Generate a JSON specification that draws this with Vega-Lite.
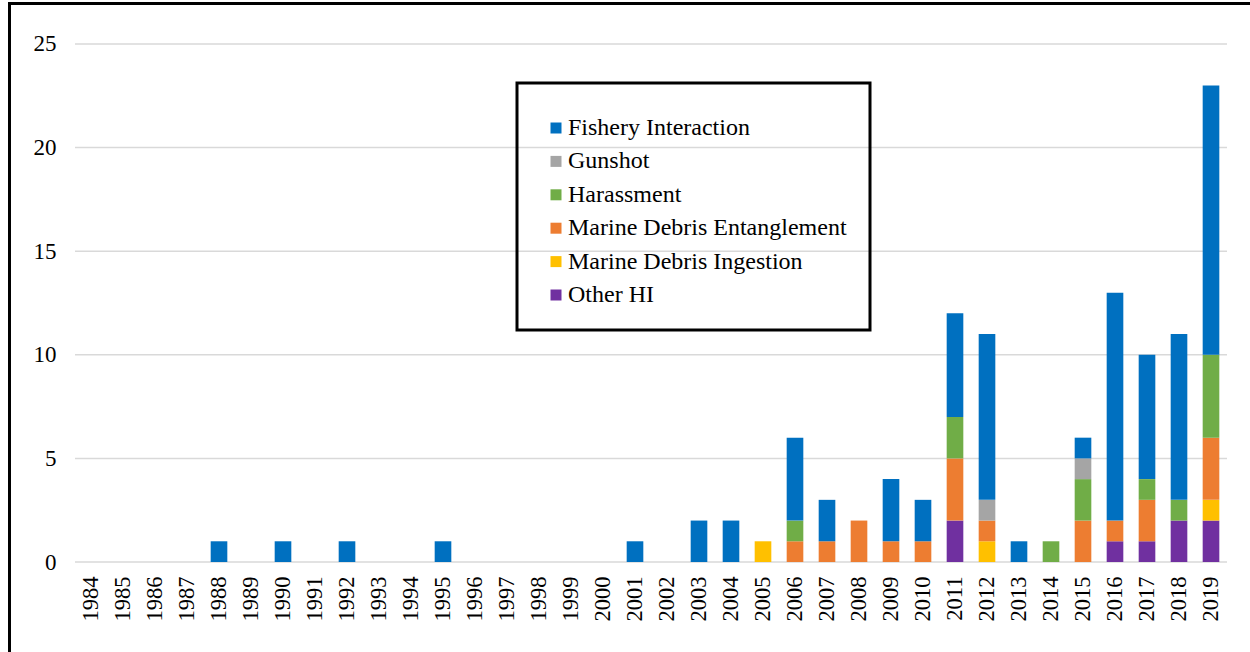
{
  "$schema": "https://vega.github.io/schema/vega-lite/v6.json",
  "autosize": {"type": "none"},
  "padding": {"left": 9.5, "top": 3.5, "right": -2, "bottom": -2},
  "width": 1242.5,
  "height": 650.5,
  "background": "white",
  "config": {
    "view": {"stroke": "#000000", "strokeWidth": 3},
    "font": "Liberation Serif",
    "axis": {"labelFont": "Liberation Serif", "labelColor": "#000000"},
    "legend": {"labelFont": "Liberation Serif"}
  },
  "layer": [
    {
      "data": {"values": [{"v": 0}, {"v": 5}, {"v": 10}, {"v": 15}, {"v": 20}, {"v": 25}]},
      "mark": {"type": "rule", "color": "#d9d9d9", "strokeWidth": 1.5},
      "encoding": {
        "y": {
          "field": "v",
          "type": "quantitative",
          "scale": {"domain": [-4.44, 26.954], "nice": false, "zero": false},
          "axis": {
            "title": null,
            "values": [0, 5, 10, 15, 20, 25],
            "labelFontSize": 23,
            "labelPadding": -46.5,
            "ticks": false,
            "tickSize": 0,
            "domain": false,
            "grid": false
          }
        },
        "x": {
          "datum": "1984",
          "type": "ordinal",
          "bandPosition": -0.4615,
          "scale": {"paddingInner": 0.48, "paddingOuter": 0.24, "range": [65.5, 1217.5]},
          "axis": {
            "title": null,
            "labelAngle": -90,
            "labelFontSize": 22.5,
            "labelPadding": 14,
            "ticks": false,
            "tickSize": 0,
            "domain": false,
            "grid": false,
            "offset": -92
          }
        },
        "x2": {"datum": "2019", "bandPosition": 1.4615}
      }
    },
    {
      "data": {
        "values": [
          {"year": "1984", "cause": "Fishery Interaction", "count": 0},
          {"year": "1985", "cause": "Fishery Interaction", "count": 0},
          {"year": "1986", "cause": "Fishery Interaction", "count": 0},
          {"year": "1987", "cause": "Fishery Interaction", "count": 0},
          {"year": "1988", "cause": "Fishery Interaction", "count": 1},
          {"year": "1989", "cause": "Fishery Interaction", "count": 0},
          {"year": "1990", "cause": "Fishery Interaction", "count": 1},
          {"year": "1991", "cause": "Fishery Interaction", "count": 0},
          {"year": "1992", "cause": "Fishery Interaction", "count": 1},
          {"year": "1993", "cause": "Fishery Interaction", "count": 0},
          {"year": "1994", "cause": "Fishery Interaction", "count": 0},
          {"year": "1995", "cause": "Fishery Interaction", "count": 1},
          {"year": "1996", "cause": "Fishery Interaction", "count": 0},
          {"year": "1997", "cause": "Fishery Interaction", "count": 0},
          {"year": "1998", "cause": "Fishery Interaction", "count": 0},
          {"year": "1999", "cause": "Fishery Interaction", "count": 0},
          {"year": "2000", "cause": "Fishery Interaction", "count": 0},
          {"year": "2001", "cause": "Fishery Interaction", "count": 1},
          {"year": "2002", "cause": "Fishery Interaction", "count": 0},
          {"year": "2003", "cause": "Fishery Interaction", "count": 2},
          {"year": "2004", "cause": "Fishery Interaction", "count": 2},
          {"year": "2005", "cause": "Marine Debris Ingestion", "count": 1},
          {"year": "2006", "cause": "Marine Debris Entanglement", "count": 1},
          {"year": "2006", "cause": "Harassment", "count": 1},
          {"year": "2006", "cause": "Fishery Interaction", "count": 4},
          {"year": "2007", "cause": "Marine Debris Entanglement", "count": 1},
          {"year": "2007", "cause": "Fishery Interaction", "count": 2},
          {"year": "2008", "cause": "Marine Debris Entanglement", "count": 2},
          {"year": "2009", "cause": "Marine Debris Entanglement", "count": 1},
          {"year": "2009", "cause": "Fishery Interaction", "count": 3},
          {"year": "2010", "cause": "Marine Debris Entanglement", "count": 1},
          {"year": "2010", "cause": "Fishery Interaction", "count": 2},
          {"year": "2011", "cause": "Other HI", "count": 2},
          {"year": "2011", "cause": "Marine Debris Entanglement", "count": 3},
          {"year": "2011", "cause": "Harassment", "count": 2},
          {"year": "2011", "cause": "Fishery Interaction", "count": 5},
          {"year": "2012", "cause": "Marine Debris Ingestion", "count": 1},
          {"year": "2012", "cause": "Marine Debris Entanglement", "count": 1},
          {"year": "2012", "cause": "Gunshot", "count": 1},
          {"year": "2012", "cause": "Fishery Interaction", "count": 8},
          {"year": "2013", "cause": "Fishery Interaction", "count": 1},
          {"year": "2014", "cause": "Harassment", "count": 1},
          {"year": "2015", "cause": "Marine Debris Entanglement", "count": 2},
          {"year": "2015", "cause": "Harassment", "count": 2},
          {"year": "2015", "cause": "Gunshot", "count": 1},
          {"year": "2015", "cause": "Fishery Interaction", "count": 1},
          {"year": "2016", "cause": "Other HI", "count": 1},
          {"year": "2016", "cause": "Marine Debris Entanglement", "count": 1},
          {"year": "2016", "cause": "Fishery Interaction", "count": 11},
          {"year": "2017", "cause": "Other HI", "count": 1},
          {"year": "2017", "cause": "Marine Debris Entanglement", "count": 2},
          {"year": "2017", "cause": "Harassment", "count": 1},
          {"year": "2017", "cause": "Fishery Interaction", "count": 6},
          {"year": "2018", "cause": "Other HI", "count": 2},
          {"year": "2018", "cause": "Harassment", "count": 1},
          {"year": "2018", "cause": "Fishery Interaction", "count": 8},
          {"year": "2019", "cause": "Other HI", "count": 2},
          {"year": "2019", "cause": "Marine Debris Ingestion", "count": 1},
          {"year": "2019", "cause": "Marine Debris Entanglement", "count": 3},
          {"year": "2019", "cause": "Harassment", "count": 4},
          {"year": "2019", "cause": "Fishery Interaction", "count": 13}
        ]
      },
      "mark": {"type": "bar"},
      "encoding": {
        "x": {
          "field": "year",
          "type": "ordinal",
          "scale": {"paddingInner": 0.48, "paddingOuter": 0.24, "range": [65.5, 1217.5]},
          "axis": {
            "title": null,
            "labelAngle": -90,
            "labelFontSize": 22.5,
            "labelPadding": 14,
            "ticks": false,
            "tickSize": 0,
            "domain": false,
            "grid": false,
            "offset": -92
          }
        },
        "y": {
          "field": "count",
          "type": "quantitative",
          "stack": "zero",
          "scale": {"domain": [-4.44, 26.954], "nice": false, "zero": false},
          "axis": {
            "title": null,
            "values": [0, 5, 10, 15, 20, 25],
            "labelFontSize": 23,
            "labelPadding": -46.5,
            "ticks": false,
            "tickSize": 0,
            "domain": false,
            "grid": false
          }
        },
        "color": {
          "field": "cause",
          "type": "nominal",
          "scale": {
            "domain": ["Fishery Interaction", "Gunshot", "Harassment", "Marine Debris Entanglement", "Marine Debris Ingestion", "Other HI"],
            "range": ["#0070c0", "#a5a5a5", "#70ad47", "#ed7d31", "#ffc000", "#7030a0"]
          },
          "legend": {
            "title": " ",
            "titleFontSize": 1,
            "titlePadding": 9,
            "orient": "none",
            "legendX": 507.5,
            "legendY": 79.5,
            "padding": 23,
            "symbolOffset": 4,
            "strokeColor": "#000000",
            "symbolType": "square",
            "symbolSize": 121,
            "symbolStrokeWidth": 0,
            "labelFontSize": 24,
            "labelOffset": 0,
            "labelColor": "#000000",
            "rowPadding": 9.4,
            "labelLimit": 400,
            "encode": {"legend": {"update": {"strokeWidth": {"value": 3}}}}
          }
        },
        "order": {"field": "cause", "sort": "descending"}
      }
    }
  ]
}
